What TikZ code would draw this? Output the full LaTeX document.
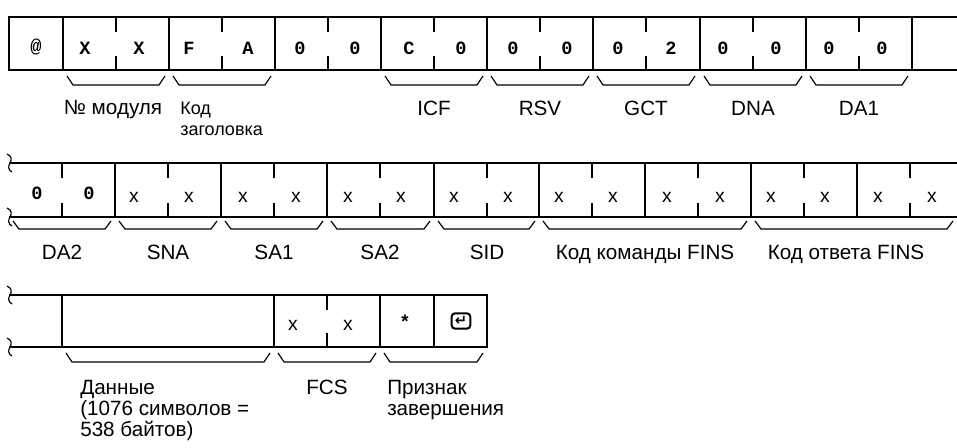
\documentclass[tikz,border=0pt]{standalone}
\usepackage{fontspec}
\setmainfont{Liberation Sans}
\newfontfamily\monofont{Liberation Mono}
\newfontfamily\symfont{DejaVu Sans}
\usepackage{tikz}

\tikzset{
	frame/.style={line width=1.2pt},
	brc/.style={line width=0.9pt},
	chr/.style={inner sep=0pt, font=\monofont\bfseries\fontsize{14}{14}\selectfont},
	chx/.style={inner sep=0pt, font=\fontsize{14.5}{14.5}\selectfont},
	lbl/.style={inner sep=0pt, anchor=base, font=\fontsize{15.5}{17}\selectfont},
	lbll/.style={lbl, anchor=base west},
}

\begin{document}
\begin{tikzpicture}[x=0.75pt, y=-0.75pt]
	\useasboundingbox (0,0) rectangle (957,447);
	
	% Row 1
	\draw[frame] (957,17) -- (9,17) -- (9,70) -- (957,70);
	\draw[frame] (63,17) -- (63,70) (169,17) -- (169,70) (275,17) -- (275,70)
		(381,17) -- (381,70) (487,17) -- (487,70) (593,17) -- (593,70)
		(700,17) -- (700,70) (806,17) -- (806,70) (912,17) -- (912,70);
	\draw[frame] (116,17) -- ++(0,15) (116,70) -- ++(0,-14)
		(222,17) -- ++(0,15) (222,70) -- ++(0,-14)
		(328,17) -- ++(0,15) (328,70) -- ++(0,-14)
		(434,17) -- ++(0,15) (434,70) -- ++(0,-14)
		(540,17) -- ++(0,15) (540,70) -- ++(0,-14)
		(646,17) -- ++(0,15) (646,70) -- ++(0,-14)
		(753,17) -- ++(0,15) (753,70) -- ++(0,-14)
		(859,17) -- ++(0,15) (859,70) -- ++(0,-14);
	
	\node[chr] (at1) at (36,47) {@};
	\node[chr] (mod1) at (85,48) {X};
	\node[chr] (mod2) at (139,48) {X};
	\node[chr] (hdr1) at (189,48) {F};
	\node[chr] (hdr2) at (248,48) {A};
	\node[chr] (z1) at (300,48) {0};
	\node[chr] (z2) at (355,48) {0};
	\node[chr] (icf1) at (409,48) {C};
	\node[chr] (icf2) at (461,48) {0};
	\node[chr] (rsv1) at (513,48) {0};
	\node[chr] (rsv2) at (567,48) {0};
	\node[chr] (gct1) at (618,48) {0};
	\node[chr] (gct2) at (671,48) {2};
	\node[chr] (dna1) at (723,48) {0};
	\node[chr] (dna2) at (776,48) {0};
	\node[chr] (daa1) at (829,48) {0};
	\node[chr] (daa2) at (882,48) {0};
	
	\draw[brc] (67,76) -- ++(6,9) -- ++(86,0) -- ++(6,-9);
	\draw[brc] (173,76) -- ++(6,9) -- ++(86,0) -- ++(6,-9);
	\draw[brc] (385,76) -- ++(6,9) -- ++(86,0) -- ++(6,-9);
	\draw[brc] (491,76) -- ++(6,9) -- ++(86,0) -- ++(6,-9);
	\draw[brc] (597,76) -- ++(6,9) -- ++(86,0) -- ++(6,-9);
	\draw[brc] (704,76) -- ++(6,9) -- ++(86,0) -- ++(6,-9);
	\draw[brc] (810,76) -- ++(6,9) -- ++(86,0) -- ++(6,-9);
	
	\node[lbl] (lmod) at (113,114) {№ модуля};
	\node[lbll, font=\fontsize{13.5}{15}\selectfont] (lhdr1) at (180,114) {Код};
	\node[lbll, font=\fontsize{13.5}{15}\selectfont] (lhdr2) at (180,135) {заголовка};
	\node[lbl] (licf) at (434,115) {ICF};
	\node[lbl] (lrsv) at (540,115) {RSV};
	\node[lbl] (lgct) at (646,115) {GCT};
	\node[lbl] (ldna) at (753,115) {DNA};
	\node[lbl] (lda1) at (859,115) {DA1};
	
	% Row 2
	\draw[frame] (957,163) -- (9,163) (9,217) -- (957,217);
	\draw[brc] (7,154) .. controls (12,156) and (12,160) .. (10,163) .. controls (8,166) and (8,170) .. (12,172);
	\draw[brc] (7,208) .. controls (12,210) and (12,214) .. (10,217) .. controls (8,220) and (8,224) .. (12,226);
	\draw[frame] (115,163) -- (115,217) (221,163) -- (221,217) (327,163) -- (327,217)
		(434,163) -- (434,217) (539,163) -- (539,217) (645,163) -- (645,217)
		(751,163) -- (751,217) (857,163) -- (857,217);
	\draw[frame] (62,163) -- ++(0,15) (62,217) -- ++(0,-14)
		(168,163) -- ++(0,15) (168,217) -- ++(0,-14)
		(274,163) -- ++(0,15) (274,217) -- ++(0,-14)
		(380,163) -- ++(0,15) (380,217) -- ++(0,-14)
		(487,163) -- ++(0,15) (487,217) -- ++(0,-14)
		(592,163) -- ++(0,15) (592,217) -- ++(0,-14)
		(698,163) -- ++(0,15) (698,217) -- ++(0,-14)
		(804,163) -- ++(0,15) (804,217) -- ++(0,-14)
		(910,163) -- ++(0,15) (910,217) -- ++(0,-14);
	
	\node[chr] (dab1) at (37,193) {0};
	\node[chr] (dab2) at (89,193) {0};
	\node[chx] (sna1) at (134,197) {x};
	\node[chx] (sna2) at (189,197) {x};
	\node[chx] (saa1) at (243,197) {x};
	\node[chx] (saa2) at (296,197) {x};
	\node[chx] (sab1) at (348,197) {x};
	\node[chx] (sab2) at (401,197) {x};
	\node[chx] (sid1) at (454,197) {x};
	\node[chx] (sid2) at (508,197) {x};
	\node[chx] (cmd1) at (559,197) {x};
	\node[chx] (cmd2) at (613,197) {x};
	\node[chx] (cmd3) at (667,197) {x};
	\node[chx] (cmd4) at (720,197) {x};
	\node[chx] (rsp1) at (771,197) {x};
	\node[chx] (rsp2) at (825,197) {x};
	\node[chx] (rsp3) at (878,197) {x};
	\node[chx] (rsp4) at (932,197) {x};
	
	\draw[brc] (13,221) -- ++(6,8) -- ++(86,0) -- ++(6,-8);
	\draw[brc] (119,221) -- ++(6,8) -- ++(86,0) -- ++(6,-8);
	\draw[brc] (225,221) -- ++(6,8) -- ++(86,0) -- ++(6,-8);
	\draw[brc] (331,221) -- ++(6,8) -- ++(87,0) -- ++(6,-8);
	\draw[brc] (438,221) -- ++(6,8) -- ++(85,0) -- ++(6,-8);
	\draw[brc] (543,221) -- ++(6,8) -- ++(192,0) -- ++(6,-8);
	\draw[brc] (755,221) -- ++(6,8) -- ++(186,0) -- ++(6,-8);
	
	\node[lbl] (lda2) at (62,259) {DA2};
	\node[lbl] (lsna) at (168,259) {SNA};
	\node[lbl] (lsa1) at (274,259) {SA1};
	\node[lbl] (lsa2) at (380,259) {SA2};
	\node[lbl] (lsid) at (487,259) {SID};
	\node[lbl] (lcmd) at (645,259) {Код команды FINS};
	\node[lbl] (lrsp) at (846,259) {Код ответа FINS};
	
	% Row 3
	\draw[frame] (9,295) -- (487,295) -- (487,347) -- (9,347);
	\draw[brc] (7,286) .. controls (12,288) and (12,292) .. (10,295) .. controls (8,298) and (8,302) .. (12,304);
	\draw[brc] (7,338) .. controls (12,340) and (12,344) .. (10,347) .. controls (8,350) and (8,354) .. (12,356);
	\draw[frame] (62,295) -- (62,347) (274,295) -- (274,347) (380,295) -- (380,347) (434,295) -- (434,347);
	\draw[frame] (327,295) -- ++(0,15) (327,347) -- ++(0,-14);
	
	\node[chx] (fcs1) at (293,325) {x};
	\node[chx] (fcs2) at (348,325) {x};
	\node[chr] (trm1) at (405,322) {*};
	\node[draw, rounded corners=2.5pt, line width=1.5pt, minimum width=14pt, minimum height=11.5pt,
		inner sep=0pt, font=\symfont\bfseries\fontsize{11}{11}\selectfont] (trm2) at (461,321) {↵};
	
	\draw[brc] (66,353) -- ++(6,9) -- ++(192,0) -- ++(6,-9);
	\draw[brc] (278,353) -- ++(6,9) -- ++(86,0) -- ++(6,-9);
	\draw[brc] (384,353) -- ++(6,9) -- ++(87,0) -- ++(6,-9);
	
	\node[lbll] (ldat1) at (80,394) {Данные};
	\node[lbll] (ldat2) at (80,415) {(1076 символов =};
	\node[lbll] (ldat3) at (80,436) {538 байтов)};
	\node[lbl] (lfcs) at (327,394) {FCS};
	\node[lbll] (ltrm1) at (387,394) {Признак};
	\node[lbll] (ltrm2) at (387,415) {завершения};
\end{tikzpicture}
\end{document}
